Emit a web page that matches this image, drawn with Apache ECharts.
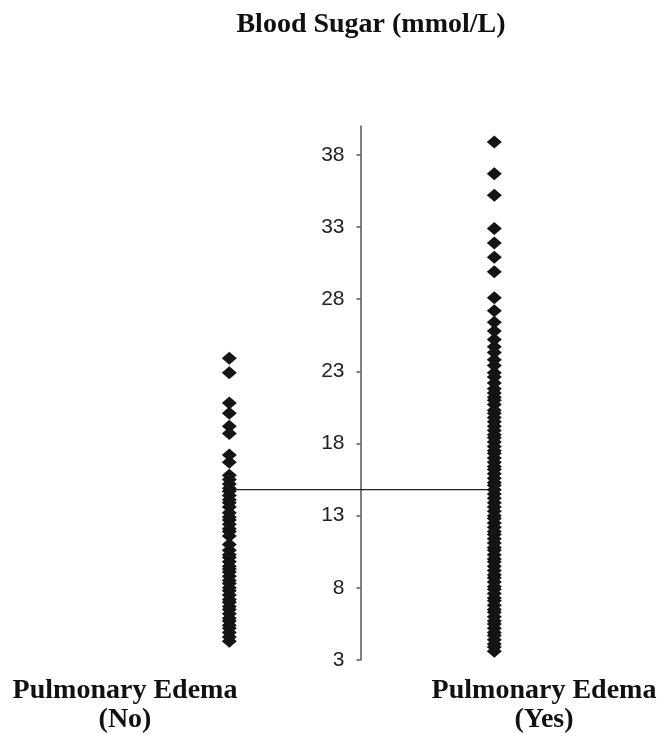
<!DOCTYPE html>
<html>
<head>
<meta charset="utf-8">
<script src="https://cdn.jsdelivr.net/npm/echarts@6/dist/echarts.min.js"></script>
<style>
html,body{margin:0;padding:0;background:#fff;}
#chart{width:668px;height:737px;}
</style>
</head>
<body>
<div id="chart"></div>
<script>
// ---- data ----
var chartTitle = 'Blood Sugar (mmol/L)';
var categories = ['No', 'Yes'];
var categoryLabels = ['Pulmonary Edema\n(No)', 'Pulmonary Edema\n(Yes)'];
var categoryX = [-0.5, 0.5];
var yTicks = [3, 8, 13, 18, 23, 28, 33, 38];
var yMin = 3;
var yMax = 40;
var referenceLine = [14.8, 14.8];

var sugarNo = [
  23.9, 22.9, 20.8, 20.1, 19.2, 18.7, 17.2, 16.7,
  15.8, 15.5, 15.2, 14.9, 14.7, 14.4, 14.1, 13.9,
  13.6, 13.2, 12.9, 12.7, 12.4, 12.1, 11.9, 11.6, 11.0,
  10.6, 10.3, 10.1, 9.8, 9.5, 9.3, 9.1, 8.8,
  8.5, 8.3, 8.0, 7.8, 7.5, 7.2, 7.0, 6.7,
  6.5, 6.2, 5.9, 5.7, 5.4, 5.2, 4.9, 4.6, 4.3
];

var sugarYes = [
  38.9, 36.7, 35.2, 32.9, 31.9, 30.9, 29.9,
  28.1, 27.2, 26.4, 25.8, 25.2, 24.7, 24.3, 23.8, 23.4, 22.9,
  22.6, 22.2, 21.8, 21.5, 21.2, 21.0, 20.7, 20.3, 20.1, 19.8,
  19.5, 19.2, 18.9, 18.6, 18.4, 18.1, 17.8, 17.5, 17.3, 17.0,
  16.7, 16.4, 16.2, 15.9, 15.6, 15.3, 15.1, 14.8, 14.5, 14.2,
  13.9, 13.6, 13.3, 13.0, 12.8, 12.5, 12.2, 11.9, 11.7, 11.4, 11.1,
  10.8, 10.6, 10.3, 10.0, 9.8, 9.5, 9.2, 8.9, 8.7, 8.4,
  8.1, 7.9, 7.6, 7.3, 7.1, 6.8, 6.5, 6.3, 6.0, 5.7,
  5.5, 5.2, 4.9, 4.7, 4.4, 4.1, 3.9, 3.6
];

// ---- build ----
function pairs(x, arr) { return arr.map(function (v) { return [x, v]; }); }

var chart = echarts.init(document.getElementById('chart'), null, { renderer: 'canvas' });

var labelFont = 'bold 28px "Liberation Serif", "Times New Roman", serif';
var TOP = 126, BOTTOM = 77;

var option = {
  animation: false,
  backgroundColor: '#ffffff',
  grid: [
    { left: 96.8, right: 41.2, top: TOP, bottom: BOTTOM, containLabel: false },
    { left: 360.5, width: 1, top: TOP, bottom: BOTTOM, containLabel: false }
  ],
  xAxis: [
    { gridIndex: 0, type: 'value', min: -1, max: 1, show: false },
    { gridIndex: 1, type: 'value', min: 0, max: 1, show: false }
  ],
  yAxis: [
    { gridIndex: 0, type: 'value', min: yMin, max: yMax, show: false },
    {
      gridIndex: 1, type: 'value', min: yMin, max: yMax, position: 'left',
      axisLine: { show: true, onZero: false, lineStyle: { color: '#555', width: 1.5 } },
      axisTick: { show: true, length: 4, inside: false, customValues: yTicks, lineStyle: { color: '#555', width: 1.5 } },
      axisLabel: {
        show: true, customValues: yTicks, margin: 16,
        fontFamily: '"Liberation Sans", Arial, sans-serif', fontSize: 21, color: '#222'
      },
      splitLine: { show: false }
    }
  ],
  series: [
    {
      type: 'line', name: 'ref', xAxisIndex: 0, yAxisIndex: 0,
      data: [[categoryX[0], referenceLine[0]], [categoryX[1], referenceLine[1]]],
      showSymbol: false, symbol: 'none',
      lineStyle: { color: '#222', width: 1.3 }, z: 1, silent: true
    },
    {
      type: 'scatter', name: categories[0], xAxisIndex: 0, yAxisIndex: 0,
      data: pairs(categoryX[0], sugarNo),
      symbol: 'diamond', symbolSize: [15, 13],
      itemStyle: { color: '#141414', opacity: 1 }, z: 2, clip: false
    },
    {
      type: 'scatter', name: categories[1], xAxisIndex: 0, yAxisIndex: 0,
      data: pairs(categoryX[1], sugarYes),
      symbol: 'diamond', symbolSize: [15, 13],
      itemStyle: { color: '#141414', opacity: 1 }, z: 2, clip: false
    }
  ],
  graphic: [
    {
      type: 'text', x: 371, y: 25,
      style: { text: chartTitle, font: labelFont, fill: '#111', textAlign: 'center', textVerticalAlign: 'middle' }
    },
    {
      type: 'text', x: 125, y: 705,
      style: { text: categoryLabels[0], font: labelFont, lineHeight: 29, fill: '#111', textAlign: 'center', textVerticalAlign: 'middle' }
    },
    {
      type: 'text', x: 544, y: 705,
      style: { text: categoryLabels[1], font: labelFont, lineHeight: 29, fill: '#111', textAlign: 'center', textVerticalAlign: 'middle' }
    }
  ]
};
chart.setOption(option);
</script>
</body>
</html>
